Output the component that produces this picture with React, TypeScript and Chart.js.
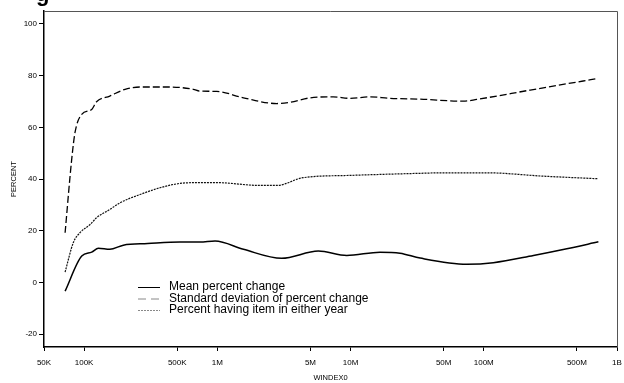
import React, { useEffect, useRef } from "react";
import { Chart, registerables } from "chart.js";

Chart.register(...registerables);

const xTickValues = [5e4, 1e5, 5e5, 1e6, 5e6, 1e7, 5e7, 1e8, 5e8, 1e9];
const xTickLabels = ["50K", "100K", "500K", "1M", "5M", "10M", "50M", "100M", "500M", "1B"];
const yTickValues = [-20, 0, 20, 40, 60, 80, 100];

const seriesLabels = [
  "Mean percent change",
  "Standard deviation of percent change",
  "Percent having item in either year",
];

const meanX = [72000, 96000, 114000, 128000, 156000, 197000, 300000, 525000, 741000, 961000, 1570000, 3040000, 5730000, 9360000, 16650000, 23500000, 33300000, 74600000, 118000000, 236000000, 420000000, 725000000];
const meanY = [-3.4, 10.2, 11.7, 13.2, 12.8, 14.4, 15.0, 15.6, 15.6, 16.0, 12.8, 9.3, 12.1, 10.4, 11.7, 11.3, 9.4, 7.0, 7.6, 10.4, 13.0, 15.7];

const sdX = [72000, 80700, 85400, 95900, 114000, 124000, 156000, 203000, 263000, 441000, 660000, 741000, 990000, 1570000, 2790000, 3500000, 4970000, 7400000, 9900000, 14000000, 19800000, 33300000, 70000000, 88600000, 223000000, 721000000];
const sdY = [19.2, 47.6, 57.9, 65.0, 66.9, 69.9, 72.1, 74.7, 75.6, 75.6, 74.7, 74.0, 73.9, 71.4, 69.2, 69.7, 71.4, 71.8, 71.2, 71.8, 71.2, 70.9, 70.1, 70.8, 74.4, 78.9];

const pctX = [72000, 83000, 93000, 111000, 124000, 156000, 186000, 263000, 371000, 525000, 741000, 990000, 2090000, 2790000, 4400000, 9900000, 33300000, 49500000, 105000000, 279000000, 721000000];
const pctY = [4.0, 15.4, 19.2, 22.4, 25.0, 28.2, 30.8, 34.0, 36.6, 38.3, 38.6, 38.6, 37.5, 37.5, 40.5, 41.4, 42.2, 42.4, 42.4, 41.1, 40.1];

const toPoints = (xs: number[], ys: number[]) => xs.map((x, i) => ({ x, y: ys[i] }));

const overlayPlugin = {
  id: "overlay",
  afterDraw(chart: any) {
    const { ctx, chartArea } = chart;
    const { left, right, top, bottom } = chartArea;
    ctx.save();
    // top and right frame
    ctx.strokeStyle = "#555";
    ctx.lineWidth = 1;
    ctx.setLineDash([]);
    ctx.beginPath();
    ctx.moveTo(left, top + 0.5);
    ctx.lineTo(right + 0.5, top + 0.5);
    ctx.lineTo(right + 0.5, bottom);
    ctx.stroke();

    // cut-off title glyph at top-left
    ctx.fillStyle = "#000";
    ctx.font = "bold 22px 'Liberation Sans', Arial, sans-serif";
    ctx.textBaseline = "alphabetic";
    ctx.textAlign = "left";
    ctx.fillText("g", 36, 0.5);

    // legend
    const lx0 = 138;
    const lx1 = 160;
    const tx = 169;
    const ys = [287, 298.5, 310];
    ctx.font = "12px 'Liberation Sans', Arial, sans-serif";
    ctx.textBaseline = "middle";
    chart.data.datasets.forEach((ds: any, i: number) => {
      ctx.strokeStyle = i === 0 ? "#000" : "#888";
      ctx.lineWidth = 1;
      ctx.setLineDash(i === 1 ? [8, 5] : ds.borderDash || []);
      ctx.beginPath();
      ctx.moveTo(lx0, ys[i] + 0.5);
      ctx.lineTo(lx1, ys[i] + 0.5);
      ctx.stroke();
      ctx.setLineDash([]);
      ctx.fillStyle = "#000";
      ctx.fillText(ds.label, tx, ys[i]);
    });
    ctx.restore();
  },
};

export default function App() {
  const canvasRef = useRef<HTMLCanvasElement | null>(null);

  useEffect(() => {
    document.body.style.margin = "0";
    const canvas = canvasRef.current;
    if (!canvas) return;
    const tickFont = { family: "'Liberation Sans', Arial, sans-serif", size: 8 };
    const titleFont = { family: "'Liberation Sans', Arial, sans-serif", size: 7.5 };
    const chart = new Chart(canvas, {
      type: "line",
      data: {
        datasets: [
          {
            label: seriesLabels[0],
            data: toPoints(meanX, meanY),
            borderColor: "#000",
            borderWidth: 1.5,
            pointRadius: 0,
            cubicInterpolationMode: "monotone",
            fill: false,
          },
          {
            label: seriesLabels[1],
            data: toPoints(sdX, sdY),
            borderColor: "#000",
            borderWidth: 1.3,
            borderDash: [7, 3],
            pointRadius: 0,
            cubicInterpolationMode: "monotone",
            fill: false,
          },
          {
            label: seriesLabels[2],
            data: toPoints(pctX, pctY),
            borderColor: "#111",
            borderWidth: 1.2,
            borderDash: [2, 1],
            pointRadius: 0,
            cubicInterpolationMode: "monotone",
            fill: false,
          },
        ],
      },
      options: {
        responsive: false,
        animation: false,
        devicePixelRatio: 1,
        layout: { padding: { top: 11, right: 7, left: 0, bottom: 0 } },
        plugins: {
          legend: { display: false },
          tooltip: { enabled: false },
        },
        scales: {
          x: {
            type: "logarithmic",
            position: "bottom",
            min: 5e4,
            max: 1e9,
            afterBuildTicks: (scale: any) => {
              scale.ticks = xTickValues.map((v) => ({ value: v }));
            },
            afterFit: (scale: any) => {
              scale.height = 36;
              scale.paddingLeft = 0;
              scale.paddingRight = 0;
            },
            ticks: {
              autoSkip: false,
              maxRotation: 0,
              minRotation: 0,
              color: "#000",
              font: tickFont,
              padding: 7,
              callback: (value: any, index: number) => xTickLabels[index],
            },
            grid: { drawOnChartArea: false, drawTicks: true, tickLength: 4, color: "#000", lineWidth: 1 },
            border: { display: true, color: "#000", width: 1.5 },
            title: { display: true, text: "WINDEX0", color: "#000", font: titleFont, padding: { top: 0, bottom: 1 } },
          },
          y: {
            type: "linear",
            position: "left",
            min: -25,
            max: 105,
            afterBuildTicks: (scale: any) => {
              scale.ticks = yTickValues.map((v) => ({ value: v }));
            },
            afterFit: (scale: any) => {
              scale.width = 44;
              scale.paddingTop = 0;
              scale.paddingBottom = 0;
            },
            ticks: {
              color: "#000",
              font: tickFont,
              padding: 2,
              callback: (value: any) => String(value),
            },
            grid: { drawOnChartArea: false, drawTicks: true, tickLength: 5, color: "#000", lineWidth: 1 },
            border: { display: true, color: "#000", width: 1.5 },
            title: { display: true, text: "PERCENT", color: "#000", font: titleFont, padding: { top: 9, bottom: 0 } },
          },
        },
      },
      plugins: [overlayPlugin],
    } as any);
    return () => chart.destroy();
  }, []);

  return (
    <div style={{ width: 624, height: 383 }}>
      <canvas ref={canvasRef} width={624} height={383} style={{ display: "block" }} />
    </div>
  );
}
